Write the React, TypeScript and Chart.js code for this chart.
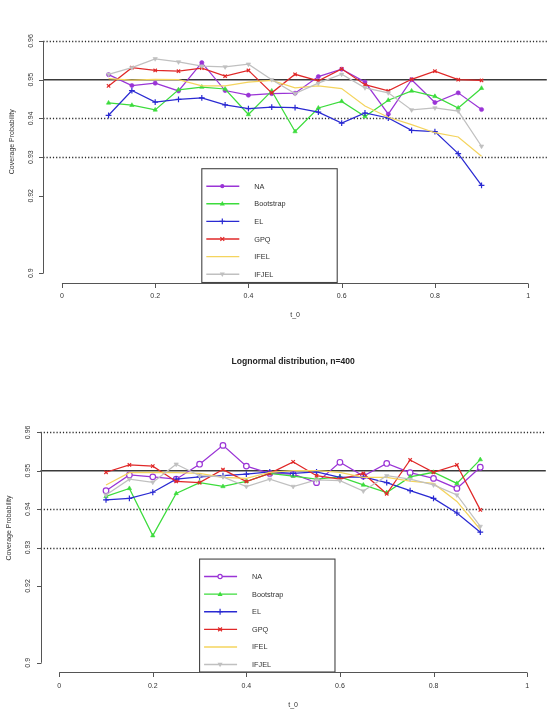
import { useEffect, useRef } from "react";
import { Chart, registerables } from "chart.js";

Chart.register(...registerables);

// Evaluation points t_0
const T0 = [0.1, 0.15, 0.2, 0.25, 0.3, 0.35, 0.4, 0.45, 0.5, 0.55, 0.6, 0.65, 0.7, 0.75, 0.8, 0.85, 0.9];

const METHODS = ["NA", "Bootstrap", "EL", "GPQ", "IFEL", "IFJEL"];

// Upper panel coverage probabilities
const UPPER_NA = [0.9513, 0.9485, 0.9491, 0.9471, 0.9544, 0.9472, 0.946, 0.9464, 0.9465, 0.9508, 0.9527, 0.9494, 0.9411, 0.95, 0.9441, 0.9466, 0.9423];
const UPPER_BOOT = [0.944, 0.9434, 0.9422, 0.9474, 0.9481, 0.9476, 0.941, 0.9471, 0.9366, 0.9427, 0.9444, 0.9405, 0.9447, 0.9471, 0.9457, 0.9427, 0.9478];
const UPPER_EL = [0.9408, 0.9472, 0.9442, 0.9449, 0.9453, 0.9435, 0.9425, 0.9429, 0.9428, 0.9416, 0.9388, 0.9414, 0.9401, 0.9369, 0.9366, 0.9309, 0.9227];
const UPPER_GPQ = [0.9484, 0.9531, 0.9524, 0.9522, 0.953, 0.9509, 0.9524, 0.9466, 0.9514, 0.9497, 0.9528, 0.9487, 0.9471, 0.9501, 0.9522, 0.95, 0.9498];
const UPPER_IFEL = [0.9503, 0.9499, 0.9501, 0.95, 0.9484, 0.9484, 0.9494, 0.9498, 0.9479, 0.9484, 0.9477, 0.9432, 0.9403, 0.9384, 0.9363, 0.9352, 0.9302];
const UPPER_IFJEL = [0.9514, 0.9531, 0.9554, 0.9546, 0.9535, 0.9533, 0.954, 0.95, 0.9464, 0.9491, 0.9514, 0.9479, 0.9466, 0.9422, 0.9427, 0.9419, 0.9328];

// Lognormal distribution, n=400
const LN400_NA = [0.9448, 0.9489, 0.9484, 0.9478, 0.9517, 0.9566, 0.9512, 0.9493, 0.9491, 0.9469, 0.9522, 0.9486, 0.9519, 0.9495, 0.948, 0.9454, 0.9509];
const LN400_BOOT = [0.9433, 0.9454, 0.9331, 0.9441, 0.9469, 0.9459, 0.9472, 0.9493, 0.9486, 0.9478, 0.9484, 0.9463, 0.9443, 0.9484, 0.9496, 0.9467, 0.9529];
const LN400_EL = [0.9424, 0.9428, 0.9444, 0.9478, 0.9484, 0.9487, 0.9491, 0.9497, 0.9493, 0.9497, 0.9483, 0.9484, 0.9469, 0.9448, 0.9428, 0.939, 0.934];
const LN400_GPQ = [0.9496, 0.9515, 0.9512, 0.9472, 0.9469, 0.9503, 0.9472, 0.9493, 0.9523, 0.9487, 0.9478, 0.9493, 0.944, 0.9528, 0.9496, 0.9515, 0.9398];
const LN400_IFEL = [0.9463, 0.9495, 0.9496, 0.9495, 0.9493, 0.9483, 0.948, 0.9496, 0.95, 0.95, 0.9496, 0.9483, 0.9483, 0.9473, 0.9467, 0.942, 0.9347];
const LN400_IFJEL = [0.9437, 0.9478, 0.947, 0.9517, 0.9487, 0.9484, 0.9459, 0.9478, 0.9459, 0.9476, 0.9474, 0.9447, 0.9487, 0.9478, 0.9463, 0.9437, 0.9355];

// Axes
const X_LIM = [0, 1];
const Y_LIM = [0.9, 0.96];
const X_TICKS = [0, 0.2, 0.4, 0.6, 0.8, 1];
const X_TICK_LABELS = ["0", "0.2", "0.4", "0.6", "0.8", "1"];
const Y_TICKS = [0.9, 0.92, 0.93, 0.94, 0.95, 0.96];
const Y_TICK_LABELS = ["0.9", "0.92", "0.93", "0.94", "0.95", "0.96"];
const X_TITLE = "t_0";
const Y_TITLE = "Coverage Probability";

// Reference levels
const NOMINAL_LEVEL = 0.95;
const DOTTED_LEVELS = [0.96, 0.94, 0.93];

// Legend top-left corner in data coordinates
const LEGEND_AT = [0.3, 0.927];

const FONT = '"Liberation Sans", Arial, Helvetica, sans-serif';

type MarkerKind = "circle" | "triangle" | "triangleDown" | "cross" | "crossRot" | "none";

const SERIES_LOOK: { color: string; marker: MarkerKind; radius: number }[] = [
  { color: "#9a34d6", marker: "circle", radius: 2.1 },
  { color: "#3cdc3c", marker: "triangle", radius: 2.5 },
  { color: "#2a2ad2", marker: "cross", radius: 2.9 },
  { color: "#e02828", marker: "crossRot", radius: 2.4 },
  { color: "#f4d45e", marker: "none", radius: 0 },
  { color: "#c0c0c0", marker: "triangleDown", radius: 2.5 },
];

function expand(lim: number[]) {
  const d = (lim[1] - lim[0]) * 0.04;
  return [lim[0] - d, lim[1] + d];
}

function drawMarker(
  ctx: CanvasRenderingContext2D,
  kind: MarkerKind,
  x: number,
  y: number,
  r: number,
  color: string,
  open: boolean
) {
  ctx.save();
  ctx.strokeStyle = color;
  ctx.fillStyle = color;
  ctx.lineWidth = 1.2;
  ctx.beginPath();
  if (kind === "circle") {
    ctx.arc(x, y, r, 0, Math.PI * 2);
    if (open) {
      ctx.fillStyle = "#fff";
      ctx.fill();
      ctx.stroke();
    } else ctx.fill();
  } else if (kind === "triangle" || kind === "triangleDown") {
    const s = kind === "triangle" ? 1 : -1;
    ctx.moveTo(x, y - s * r * 1.1);
    ctx.lineTo(x - r, y + s * r * 0.7);
    ctx.lineTo(x + r, y + s * r * 0.7);
    ctx.closePath();
    ctx.fill();
  } else if (kind === "cross") {
    ctx.moveTo(x - r, y);
    ctx.lineTo(x + r, y);
    ctx.moveTo(x, y - r);
    ctx.lineTo(x, y + r);
    ctx.stroke();
  } else if (kind === "crossRot") {
    const d = r * 0.8;
    ctx.moveTo(x - d, y - d);
    ctx.lineTo(x + d, y + d);
    ctx.moveTo(x - d, y + d);
    ctx.lineTo(x + d, y - d);
    ctx.stroke();
  }
  ctx.restore();
}

// Base-graphics style decorations: reference lines, open axes, titles, boxed legend
const rStyle = {
  id: "rStyle",
  beforeDatasetsDraw(chart: any) {
    const { ctx, chartArea: a, scales } = chart;
    const y = scales.y;
    ctx.save();
    ctx.strokeStyle = "#2a2a2a";
    ctx.lineWidth = 1.3;
    ctx.setLineDash([1.2, 2]);
    for (const v of DOTTED_LEVELS) {
      const py = Math.round(y.getPixelForValue(v)) + 0.5;
      ctx.beginPath();
      ctx.moveTo(a.left, py);
      ctx.lineTo(a.right, py);
      ctx.stroke();
    }
    ctx.setLineDash([]);
    ctx.strokeStyle = "#3a3a3a";
    ctx.lineWidth = 1.6;
    const ny = y.getPixelForValue(NOMINAL_LEVEL);
    ctx.beginPath();
    ctx.moveTo(a.left, ny);
    ctx.lineTo(a.right, ny);
    ctx.stroke();
    ctx.restore();
  },
  afterDatasetsDraw(chart: any, _args: any, opts: any) {
    const { ctx, chartArea: a, scales } = chart;
    const x = scales.x;
    const y = scales.y;
    ctx.save();

    // Legend box
    const lx = x.getPixelForValue(LEGEND_AT[0]);
    const ly = y.getPixelForValue(LEGEND_AT[1]);
    const lw = 135.4;
    ctx.fillStyle = "#fff";
    ctx.fillRect(lx, ly, lw, a.bottom - ly);
    ctx.strokeStyle = "#444";
    ctx.lineWidth = 1.1;
    ctx.strokeRect(lx, ly, lw, a.bottom - ly);
    ctx.font = `7.3px ${FONT}`;
    ctx.textBaseline = "middle";
    ctx.textAlign = "left";
    chart.data.datasets.forEach((ds: any, i: number) => {
      const look = SERIES_LOOK[i];
      const ey = ly + 17.5 + i * 17.6;
      ctx.strokeStyle = look.color;
      ctx.lineWidth = 1.4;
      ctx.beginPath();
      ctx.moveTo(lx + 4.5, ey);
      ctx.lineTo(lx + 37.5, ey);
      ctx.stroke();
      drawMarker(ctx, look.marker, lx + 20.5, ey, look.radius, look.color, i === 0 && opts.openNA);
      ctx.fillStyle = "#333";
      ctx.fillText(ds.label, lx + 52.5, ey + 0.5);
    });

    // Axes
    ctx.strokeStyle = "#555";
    ctx.lineWidth = 1;
    ctx.fillStyle = "#333";
    ctx.font = `7px ${FONT}`;
    const ax = Math.round(a.left) + 0.5;
    const ay = Math.round(a.bottom) + 0.5;
    ctx.beginPath();
    ctx.moveTo(ax, y.getPixelForValue(Y_TICKS[0]));
    ctx.lineTo(ax, y.getPixelForValue(Y_TICKS[Y_TICKS.length - 1]));
    ctx.moveTo(x.getPixelForValue(X_TICKS[0]), ay);
    ctx.lineTo(x.getPixelForValue(X_TICKS[X_TICKS.length - 1]), ay);
    Y_TICKS.forEach((v) => {
      const py = Math.round(y.getPixelForValue(v)) + 0.5;
      ctx.moveTo(ax, py);
      ctx.lineTo(ax - 4.5, py);
    });
    X_TICKS.forEach((v) => {
      const px = Math.round(x.getPixelForValue(v)) + 0.5;
      ctx.moveTo(px, ay);
      ctx.lineTo(px, ay + 4.5);
    });
    ctx.stroke();

    ctx.textAlign = "center";
    ctx.textBaseline = "middle";
    X_TICKS.forEach((v, i) => {
      ctx.fillText(X_TICK_LABELS[i], x.getPixelForValue(v), a.bottom + 14);
    });
    ctx.fillText(X_TITLE, (a.left + a.right) / 2, a.bottom + 33);
    Y_TICKS.forEach((v, i) => {
      ctx.save();
      ctx.translate(a.left - 12, y.getPixelForValue(v));
      ctx.rotate(-Math.PI / 2);
      ctx.fillText(Y_TICK_LABELS[i], 0, 0);
      ctx.restore();
    });
    ctx.save();
    ctx.translate(a.left - 31, opts.yTitleY);
    ctx.rotate(-Math.PI / 2);
    ctx.fillText(Y_TITLE, 0, 0);
    ctx.restore();

    if (opts.title) {
      ctx.font = `bold 8.6px ${FONT}`;
      ctx.fillStyle = "#222";
      ctx.fillText(opts.title, (a.left + a.right) / 2, opts.titleY);
    }
    ctx.restore();
  },
};

interface PanelProps {
  series: number[][];
  width: number;
  height: number;
  top: number;
  padding: { left: number; right: number; top: number; bottom: number };
  openNA: boolean;
  yTitleY: number;
  title?: string;
  titleY?: number;
}

function Panel(props: PanelProps) {
  const ref = useRef<HTMLCanvasElement | null>(null);

  useEffect(() => {
    if (!ref.current) return;
    const [xmin, xmax] = expand(X_LIM);
    const [ymin, ymax] = expand(Y_LIM);
    const chart = new Chart(ref.current, {
      type: "line",
      data: {
        datasets: METHODS.map((label, i) => {
          const look = SERIES_LOOK[i];
          const open = i === 0 && props.openNA;
          const kind = look.marker;
          return {
            label,
            data: T0.map((t, k) => ({ x: t, y: props.series[i][k] })),
            borderColor: look.color,
            backgroundColor: open ? "#ffffff" : look.color,
            borderWidth: 1.25,
            tension: 0,
            pointStyle: kind === "triangleDown" ? "triangle" : kind === "none" ? false : kind,
            pointRotation: kind === "triangleDown" ? 180 : 0,
            pointRadius: kind === "none" ? 0 : open ? 2.8 : look.radius,
            pointBorderWidth: kind === "cross" || kind === "crossRot" || open ? 1.2 : 0.6,
            pointBorderColor: look.color,
            pointBackgroundColor: open ? "#ffffff" : look.color,
            order: METHODS.length - i,
            clip: false as any,
          };
        }),
      },
      options: {
        animation: false,
        responsive: false,
        events: [],
        layout: { padding: props.padding },
        scales: {
          x: { type: "linear", min: xmin, max: xmax, display: false },
          y: { type: "linear", min: ymin, max: ymax, display: false },
        },
        plugins: {
          legend: { display: false },
          tooltip: { enabled: false },
          rStyle: {
            openNA: props.openNA,
            yTitleY: props.yTitleY,
            title: props.title,
            titleY: props.titleY,
          },
        } as any,
      },
      plugins: [rStyle],
    });
    return () => chart.destroy();
  }, []);

  return (
    <canvas
      ref={ref}
      width={props.width}
      height={props.height}
      style={{ position: "absolute", left: 0, top: props.top, width: props.width, height: props.height }}
    />
  );
}

export default function App() {
  return (
    <div style={{ position: "fixed", left: 0, top: 0, width: 552, height: 709, background: "#fff", overflow: "hidden" }}>
      <Panel
        series={[UPPER_NA, UPPER_BOOT, UPPER_EL, UPPER_GPQ, UPPER_IFEL, UPPER_IFJEL]}
        width={552}
        height={345}
        top={0}
        padding={{ left: 43.3, right: 3, top: 31.7, bottom: 62.5 }}
        openNA={false}
        yTitleY={141.7}
      />
      <Panel
        series={[LN400_NA, LN400_BOOT, LN400_EL, LN400_GPQ, LN400_IFEL, LN400_IFJEL]}
        width={552}
        height={364}
        top={345}
        padding={{ left: 40.5, right: 6.2, top: 78.1, bottom: 37 }}
        openNA={true}
        yTitleY={183}
        title="Lognormal distribution, n=400"
        titleY={17}
      />
    </div>
  );
}
